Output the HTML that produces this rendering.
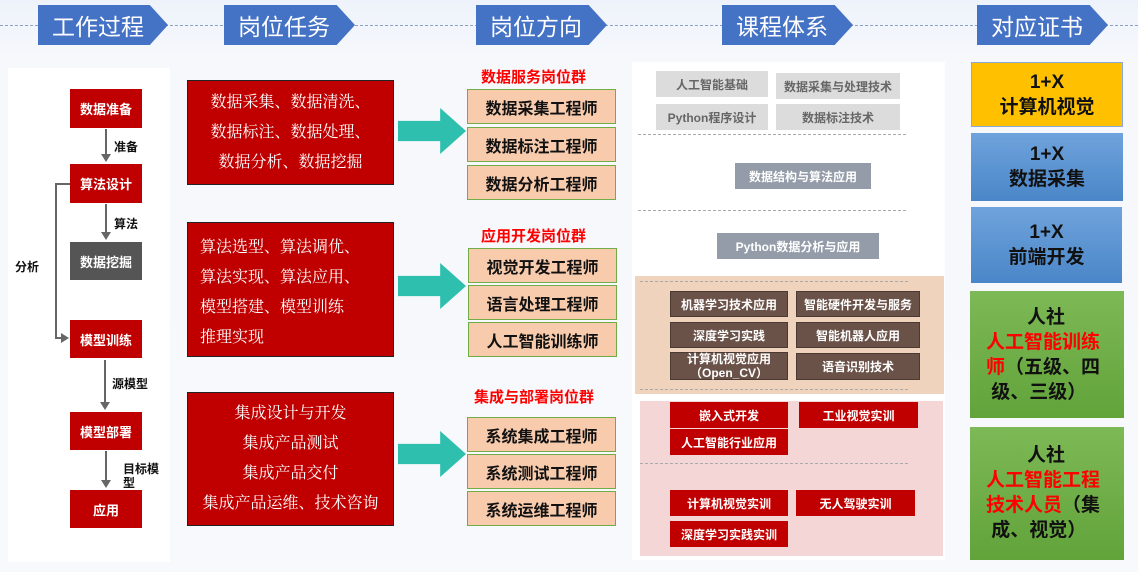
<!DOCTYPE html>
<html><head><meta charset="utf-8"><style>
*{margin:0;padding:0;box-sizing:border-box}
body{width:1138px;height:572px;position:relative;overflow:hidden;background:linear-gradient(#eef3fb 0,#f6f8fc 60px,#f7f9fc 100%);font-family:"Liberation Sans","Noto Sans CJK SC",sans-serif}
.a{position:absolute}
.c{display:flex;align-items:center;justify-content:center;text-align:center}
.hd{position:absolute;top:5px;height:40px;background:#4472c4;color:#fff;font-size:23px;display:flex;align-items:center;padding-left:14px;clip-path:polygon(0 0,86% 0,100% 50%,86% 100%,0 100%)}
.wp{background:#c00000;color:#fff;font-size:13px;font-weight:bold}
.tk{background:#c00000;border:1px solid #222;color:#fff;font-family:"Liberation Serif","Noto Serif CJK SC",serif;font-size:16px;line-height:30px}
.ps{background:#f8cbad;border:1.5px solid #70ad47;font-size:16px;font-weight:bold;color:#111}
.gt{color:#f00;font-weight:bold;font-size:15px}
.ar{background:#2ebfae;clip-path:polygon(0 28%,62% 28%,62% 0,100% 50%,62% 100%,62% 72%,0 72%)}
.g{background:#dcdcdc;color:#666;font-size:12px;font-weight:bold}
.s{background:#939ca8;color:#fff;font-size:12px;font-weight:bold}
.b{background:#6b5249;color:#fff;font-size:12px;font-weight:bold;border:1px solid #4a3a33}
.r{background:#c00000;color:#fff;font-size:12px;font-weight:bold}
.dash{position:absolute;border-top:1.5px dashed #aaa;height:0}
.cert{font-weight:bold;font-size:19px;line-height:25px;color:#111}
.lb{font-size:12px;font-weight:bold;color:#111}
.vl{position:absolute;width:2px;background:#666}
.ah{position:absolute;width:0;height:0;border-left:5px solid transparent;border-right:5px solid transparent;border-top:8px solid #666}
.gc{position:absolute;background:linear-gradient(#7db956,#62a33a);font-weight:bold;font-size:19px;line-height:25px;color:#111;padding-left:16px;padding-right:14px}
</style></head><body>
<div class="dash" style="left:0;top:25px;width:1138px;border-top:1.5px dashed #8aa0c8"></div>
<div class="hd" style="left:38px;width:130px">工作过程</div>
<div class="hd" style="left:224px;width:131px">岗位任务</div>
<div class="hd" style="left:476px;width:131px">岗位方向</div>
<div class="hd" style="left:722px;width:131px">课程体系</div>
<div class="hd" style="left:977px;width:131px">对应证书</div>

<div class="a" style="left:8px;top:68px;width:162px;height:494px;background:#fff"></div>
<div class="a c wp" style="left:70px;top:89px;width:72px;height:39px">数据准备</div>
<div class="a c wp" style="left:70px;top:164px;width:72px;height:39px">算法设计</div>
<div class="a c wp" style="left:70px;top:242px;width:72px;height:38px;background:#555">数据挖掘</div>
<div class="a c wp" style="left:70px;top:320px;width:72px;height:38px">模型训练</div>
<div class="a c wp" style="left:70px;top:412px;width:72px;height:38px">模型部署</div>
<div class="a c wp" style="left:70px;top:490px;width:72px;height:38px">应用</div>
<div class="vl" style="left:105px;top:129px;height:26px"></div><div class="ah" style="left:101px;top:154px"></div>
<div class="vl" style="left:105px;top:204px;height:28px"></div><div class="ah" style="left:101px;top:232px"></div>
<div class="vl" style="left:104px;top:360px;height:43px"></div><div class="ah" style="left:100px;top:402px"></div>
<div class="vl" style="left:105px;top:451px;height:29px"></div><div class="ah" style="left:101px;top:480px"></div>
<div class="a" style="left:55px;top:183px;width:15px;height:2px;background:#666"></div>
<div class="vl" style="left:55px;top:183px;height:156px"></div>
<div class="a" style="left:55px;top:337px;width:10px;height:2px;background:#666"></div>
<div class="a" style="left:61px;top:333px;border-top:5px solid transparent;border-bottom:5px solid transparent;border-left:8px solid #666"></div>
<div class="a lb" style="left:114px;top:138px">准备</div>
<div class="a lb" style="left:114px;top:215px">算法</div>
<div class="a lb" style="left:15px;top:258px">分析</div>
<div class="a lb" style="left:112px;top:375px">源模型</div>
<div class="a lb" style="left:123px;top:462px;line-height:14px">目标模<br>型</div>

<div class="a c tk" style="left:187px;top:80px;width:207px;height:105px">数据采集、数据清洗、<br>数据标注、数据处理、<br>数据分析、数据挖掘</div>
<div class="a tk" style="left:187px;top:222px;width:207px;height:135px;padding:10px 0 0 12px">算法选型、算法调优、<br>算法实现、算法应用、<br>模型搭建、模型训练<br>推理实现</div>
<div class="a c tk" style="left:187px;top:392px;width:207px;height:134px">集成设计与开发<br>集成产品测试<br>集成产品交付<br>集成产品运维、技术咨询</div>

<div class="a ar" style="left:398px;top:108px;width:68px;height:46px"></div>
<div class="a ar" style="left:398px;top:263px;width:68px;height:46px"></div>
<div class="a ar" style="left:398px;top:431px;width:68px;height:46px"></div>

<div class="a gt" style="left:481px;top:66px">数据服务岗位群</div>
<div class="a gt" style="left:481px;top:225px">应用开发岗位群</div>
<div class="a gt" style="left:474px;top:386px">集成与部署岗位群</div>
<div class="a c ps" style="left:467px;top:89px;width:149px;height:35px">数据采集工程师</div>
<div class="a c ps" style="left:467px;top:127px;width:149px;height:35px">数据标注工程师</div>
<div class="a c ps" style="left:467px;top:165px;width:149px;height:35px">数据分析工程师</div>
<div class="a c ps" style="left:468px;top:248px;width:149px;height:35px">视觉开发工程师</div>
<div class="a c ps" style="left:468px;top:285px;width:149px;height:35px">语言处理工程师</div>
<div class="a c ps" style="left:468px;top:322px;width:149px;height:35px">人工智能训练师</div>
<div class="a c ps" style="left:467px;top:417px;width:149px;height:35px">系统集成工程师</div>
<div class="a c ps" style="left:467px;top:454px;width:149px;height:35px">系统测试工程师</div>
<div class="a c ps" style="left:467px;top:491px;width:149px;height:35px">系统运维工程师</div>

<div class="a" style="left:632px;top:62px;width:313px;height:498px;background:#fff"></div>
<div class="a c g" style="left:656px;top:71px;width:112px;height:26px">人工智能基础</div>
<div class="a c g" style="left:776px;top:73px;width:124px;height:26px">数据采集与处理技术</div>
<div class="a c g" style="left:656px;top:104px;width:112px;height:26px">Python程序设计</div>
<div class="a c g" style="left:776px;top:104px;width:124px;height:26px">数据标注技术</div>
<div class="dash" style="left:638px;top:134px;width:268px"></div>
<div class="a c s" style="left:735px;top:163px;width:136px;height:26px">数据结构与算法应用</div>
<div class="dash" style="left:638px;top:210px;width:268px"></div>
<div class="a c s" style="left:717px;top:233px;width:162px;height:26px">Python数据分析与应用</div>
<div class="a" style="left:635px;top:276px;width:309px;height:118px;background:#efd3bd"></div>
<div class="dash" style="left:640px;top:281px;width:268px"></div>
<div class="a c b" style="left:670px;top:291px;width:118px;height:26px">机器学习技术应用</div>
<div class="a c b" style="left:796px;top:291px;width:124px;height:26px">智能硬件开发与服务</div>
<div class="a c b" style="left:670px;top:322px;width:118px;height:26px">深度学习实践</div>
<div class="a c b" style="left:796px;top:322px;width:124px;height:26px">智能机器人应用</div>
<div class="a c b" style="left:670px;top:352px;width:118px;height:28px;line-height:14px">计算机视觉应用<br>（Open_CV）</div>
<div class="a c b" style="left:796px;top:353px;width:124px;height:27px">语音识别技术</div>
<div class="dash" style="left:640px;top:389px;width:268px"></div>
<div class="a" style="left:640px;top:401px;width:303px;height:155px;background:#f4d6d7"></div>
<div class="a c r" style="left:670px;top:402px;width:118px;height:26px">嵌入式开发</div>
<div class="a c r" style="left:799px;top:402px;width:119px;height:26px">工业视觉实训</div>
<div class="a c r" style="left:670px;top:429px;width:118px;height:26px">人工智能行业应用</div>
<div class="dash" style="left:640px;top:463px;width:268px"></div>
<div class="a c r" style="left:670px;top:490px;width:118px;height:26px">计算机视觉实训</div>
<div class="a c r" style="left:796px;top:490px;width:119px;height:26px">无人驾驶实训</div>
<div class="a c r" style="left:670px;top:521px;width:118px;height:26px">深度学习实践实训</div>

<div class="a c cert" style="left:971px;top:62px;width:152px;height:65px;background:#ffc000;border:1px solid #8aa8d8">1+X<br>计算机视觉</div>
<div class="a c cert" style="left:971px;top:133px;width:152px;height:68px;background:linear-gradient(#6fa3dc,#4a86c8)">1+X<br>数据采集</div>
<div class="a c cert" style="left:971px;top:207px;width:151px;height:76px;background:linear-gradient(#6fa3dc,#4a86c8)">1+X<br>前端开发</div>
<div class="gc" style="left:970px;top:291px;width:154px;height:127px;padding-top:14px"><div style="text-align:center;margin-left:-4px">人社</div><span style="color:#f00">人工智能训练</span><br><span style="color:#f00">师</span>（五级、四<br>&nbsp;级、三级）</div>
<div class="gc" style="left:970px;top:427px;width:154px;height:133px;padding-top:16px"><div style="text-align:center;margin-left:-4px">人社</div><span style="color:#f00">人工智能工程</span><br><span style="color:#f00">技术人员</span>（集<br>&nbsp;成、视觉）</div>
</body></html>
